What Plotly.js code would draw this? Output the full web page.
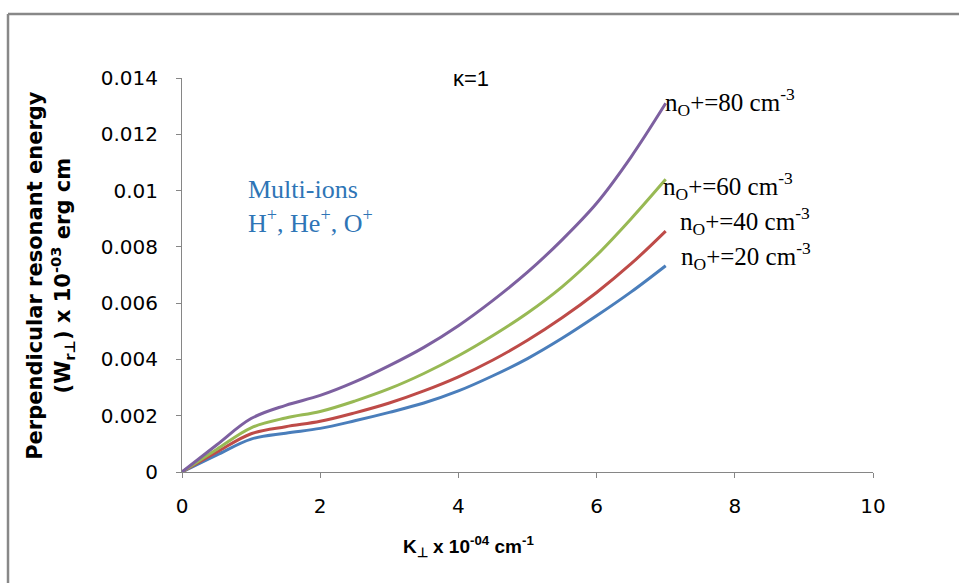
<!DOCTYPE html>
<html>
<head>
<meta charset="utf-8">
<script src="https://cdn.plot.ly/plotly-3.0.1.min.js"></script>
<style>html,body{margin:0;padding:0;background:#fff;}#chart{width:959px;height:583px;}</style>
</head>
<body>
<div id="chart"></div>
<script>
const k = [0, 0.5, 1, 1.5, 2, 2.5, 3, 3.5, 4, 4.5, 5, 5.5, 6, 6.5, 7];
const n20 = [0, 0.0006, 0.00117, 0.00138, 0.00155, 0.00182, 0.00212, 0.00245, 0.00288, 0.00342, 0.00403, 0.00475, 0.00555, 0.00640, 0.00733];
const n40 = [0, 0.0007, 0.00136, 0.00161, 0.00180, 0.00210, 0.00245, 0.00288, 0.00338, 0.00398, 0.00468, 0.00548, 0.00638, 0.00740, 0.00856];
const n60 = [0, 0.0008, 0.00157, 0.00192, 0.00215, 0.00252, 0.00296, 0.00350, 0.00413, 0.00485, 0.00565, 0.00658, 0.00770, 0.00900, 0.01040];
const n80 = [0, 0.00096, 0.00190, 0.00237, 0.00272, 0.00320, 0.00378, 0.00443, 0.00520, 0.00610, 0.00710, 0.00825, 0.00955, 0.01120, 0.01310];
const seriesNames = ["n_O+=20", "n_O+=40", "n_O+=60", "n_O+=80"];
const colors = ["#4A7EBB", "#BE4B48", "#98B954", "#7D60A0"];
const xTicks = [0, 2, 4, 6, 8, 10];
const yTicks = [0, 0.002, 0.004, 0.006, 0.008, 0.01, 0.012, 0.014];
const yTickText = ["0", "0.002", "0.004", "0.006", "0.008", "0.01", "0.012", "0.014"];

const ys = [n20, n40, n60, n80];
const traces = ys.map((y, i) => ({
  x: k, y: y, type: 'scatter', mode: 'lines', name: seriesNames[i],
  line: {color: colors[i], width: 3, shape: 'spline', smoothing: 1.0}
}));

const serif = "Liberation Serif, Times New Roman, serif";
const sans = "Liberation Sans, Arial, sans-serif";
const dvs = "DejaVu Sans, sans-serif";

const layout = {
  width: 959, height: 583,
  margin: {l: 182, r: 86, t: 78, b: 111},
  paper_bgcolor: '#fff', plot_bgcolor: '#fff',
  showlegend: false,
  xaxis: {
    range: [0, 10], tickvals: xTicks, ticktext: xTicks.map(String),
    showgrid: false, zeroline: false, showline: true, linecolor: '#868686', linewidth: 1,
    ticks: 'outside', ticklen: 5, tickcolor: '#868686', ticklabelstandoff: 11,
    tickfont: {family: dvs, size: 20, color: '#000'}
  },
  yaxis: {
    range: [0, 0.014], tickvals: yTicks, ticktext: yTickText,
    showgrid: false, zeroline: false, showline: true, linecolor: '#868686', linewidth: 1,
    ticks: 'outside', ticklen: 5, tickcolor: '#868686', ticklabelstandoff: 14,
    tickfont: {family: dvs, size: 20, color: '#000'}
  },
  shapes: [
    {type: 'line', xref: 'paper', yref: 'paper', x0: -0.2518, x1: 1.2, y0: 1.1624, y1: 1.1624, line: {color: '#888', width: 2.5}},
    {type: 'line', xref: 'paper', yref: 'paper', x0: -0.2518, x1: -0.2518, y0: 1.1624, y1: -0.35, line: {color: '#888', width: 2.5}}
  ],
  annotations: [
    {xref: 'paper', yref: 'paper', x: -0.213, y: 0.5, xanchor: 'center', yanchor: 'middle', textangle: -90, showarrow: false,
     text: '<b>Perpendicular resonant energy</b>', font: {family: dvs, size: 21, color: '#000'}},
    {xref: 'paper', yref: 'paper', x: -0.173, y: 0.5, xanchor: 'center', yanchor: 'middle', textangle: -90, showarrow: false,
     text: '<b>(W<sub>r⊥</sub>) x 10<sup>-03</sup> erg cm</b>', font: {family: dvs, size: 21, color: '#000'}},
    {xref: 'paper', yref: 'paper', x: 0.414, y: -0.19, xanchor: 'center', yanchor: 'middle', showarrow: false,
     text: '<b>K<sub>⊥</sub> x 10<sup>-04</sup> cm<sup>-1</sup></b>', font: {family: sans, size: 19, color: '#000'}},
    {xref: 'paper', yref: 'paper', x: 0.418, y: 1.0, xanchor: 'center', yanchor: 'middle', showarrow: false,
     text: 'κ=1', font: {family: sans, size: 22, color: '#000'}},
    {xref: 'paper', yref: 'paper', x: 0.092, y: 0.675, xanchor: 'left', yanchor: 'middle', align: 'left', showarrow: false,
     text: 'Multi-ions<br>H<sup>+</sup>, He<sup>+</sup>, O<sup>+</sup>', font: {family: serif, size: 26, color: '#2E75B6'}},
    {xref: 'paper', yref: 'paper', x: 0.696, y: 0.94, xanchor: 'left', yanchor: 'middle', showarrow: false,
     text: 'n<sub>O</sub>+=80 cm<sup>-3</sup>', font: {family: serif, size: 25, color: '#000'}},
    {xref: 'paper', yref: 'paper', x: 0.693, y: 0.727, xanchor: 'left', yanchor: 'middle', showarrow: false,
     text: 'n<sub>O</sub>+=60 cm<sup>-3</sup>', font: {family: serif, size: 25, color: '#000'}},
    {xref: 'paper', yref: 'paper', x: 0.718, y: 0.637, xanchor: 'left', yanchor: 'middle', showarrow: false,
     text: 'n<sub>O</sub>+=40 cm<sup>-3</sup>', font: {family: serif, size: 25, color: '#000'}},
    {xref: 'paper', yref: 'paper', x: 0.719, y: 0.547, xanchor: 'left', yanchor: 'middle', showarrow: false,
     text: 'n<sub>O</sub>+=20 cm<sup>-3</sup>', font: {family: serif, size: 25, color: '#000'}}
  ]
};

Plotly.newPlot('chart', traces, layout, {displayModeBar: false, staticPlot: true});
</script>
</body>
</html>
